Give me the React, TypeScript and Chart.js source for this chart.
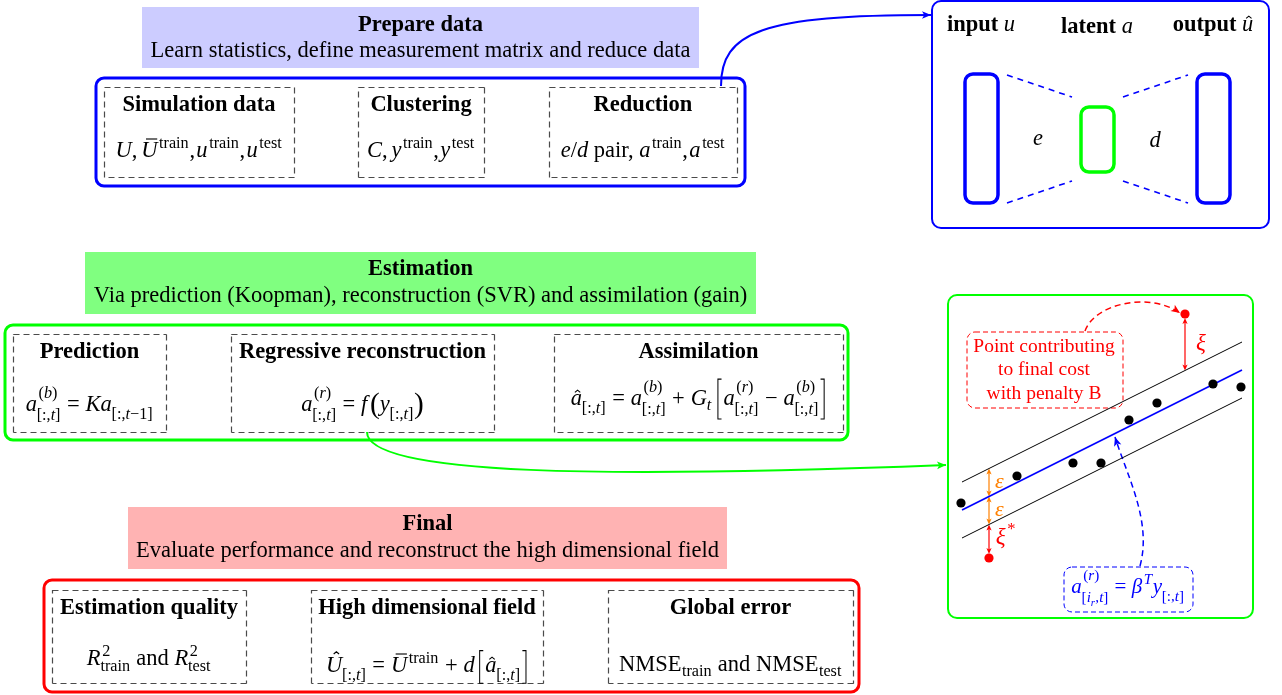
import React, { useEffect, useRef } from 'react';
import { Chart, registerables } from 'chart.js';

Chart.register(...registerables);

// ---------------- text content ----------------
const stageTitles = ['Prepare data', 'Estimation', 'Final'];
const stageSubtitles = [
  'Learn statistics, define measurement matrix and reduce data',
  'Via prediction (Koopman), reconstruction (SVR) and assimilation (gain)',
  'Evaluate performance and reconstruct the high dimensional field',
];
const prepareSteps = ['Simulation data', 'Clustering', 'Reduction'];
const estimationSteps = ['Prediction', 'Regressive reconstruction', 'Assimilation'];
const finalSteps = ['Estimation quality', 'High dimensional field', 'Global error'];
const autoencoderWords = ['input ', 'latent ', 'output '];
const autoencoderVars = ['u', 'a', 'u'];
const mapLabels = ['e', 'd'];
const penaltyNote = ['Point contributing', 'to final cost', 'with penalty B'];
const tubeLabels = ['ε', 'ε'];
const slackLabels = ['ξ', 'ξ'];

// ---------------- SVR illustration data ----------------
const svrPointX = [961, 1017, 1073, 1101, 1129, 1157, 1213, 1241];
const svrPointY = [503, 476, 463, 463, 420, 403, 384, 387];
const outlierX = [1185, 989];
const outlierY = [314, 558];
const regressionX = [962, 1242];
const regressionY = [510, 370];
const tubeHalfWidth = 28;

// ---------------- rich text helpers ----------------
type Run = { k: string; s?: string; sup?: Run[] | null; sub?: Run[] | null; w?: number; up?: boolean; a?: number; b?: number };
const FAM = '"Liberation Serif", "Times New Roman", serif';
const r = (s: string): Run => ({ k: 'r', s });
const it = (s: string): Run => ({ k: 'i', s });
const bd = (s: string): Run => ({ k: 'b', s });
const ss = (sup: Run[] | null, sub?: Run[] | null, a?: number, b?: number): Run => ({ k: 'ss', sup, sub: sub || null, a, b });
const sp = (w: number): Run => ({ k: 'sp', w });
const hat = (s: string, up = false): Run => ({ k: 'hat', s, up });
const bar = (s: string): Run => ({ k: 'bar', s });
const brk = (s: string, a: number, b: number): Run => ({ k: 'brk', s, a, b });
const par = (s: string): Run => ({ k: 'par', s });
const op = (s: string): Run[] => [sp(0.26), r(s), sp(0.26)];

const subT = [r('[:,'), it('t'), r(']')];
const supB = [r('('), it('b'), r(')')];
const supR = [r('('), it('r'), r(')')];
const TR = [r('train')];
const TE = [r('test')];

const simDataMath = [it('U'), r(','), sp(0.17), bar('U'), ss(TR), r(','), sp(0.06), it('u'), ss(TR), r(','), sp(0.06), it('u'), ss(TE)];
const clusteringMath = [it('C'), r(','), sp(0.17), it('y'), ss(TR), r(','), sp(0.06), it('y'), ss(TE)];
const reductionMath = [it('e'), r('/'), it('d'), r(' pair, '), it('a'), ss(TR), r(','), sp(0.06), it('a'), ss(TE)];
const predictionMath = [it('a'), ss(supB, subT, 0.6, 0.42), ...op('='), it('Ka'), ss(null, [r('[:,'), it('t'), r('−1]')], 0, 0.36)];
const regressionMath = [it('a'), ss(supR, subT, 0.6, 0.42), ...op('='), it('f'), sp(0.12), par('('), it('y'), ss(null, subT, 0, 0.36), par(')')];
const assimilationMath = [
  hat('a'), ss(null, subT, 0, 0.36), ...op('='), it('a'), ss(supB, subT, 0.6, 0.42), ...op('+'), it('G'), ss(null, [it('t')], 0, 0.22), sp(0.2),
  brk('[', 1.15, 0.62), it('a'), ss(supR, subT, 0.6, 0.42), ...op('−'), it('a'), ss(supB, subT, 0.6, 0.42), brk(']', 1.15, 0.62),
];
const qualityMath = [it('R'), ss([r('2')], TR, 0.4, 0.28), r(' and '), it('R'), ss([r('2')], TE, 0.4, 0.28)];
const fieldMath = [hat('U', true), ss(null, subT, 0, 0.36), ...op('='), bar('U'), ss(TR), ...op('+'), it('d'), sp(0.15), brk('[', 0.95, 0.5), hat('a'), ss(null, subT, 0, 0.36), brk(']', 0.95, 0.5)];
const errorMath = [r('NMSE'), ss(null, TR, 0, 0.24), r(' and NMSE'), ss(null, TE, 0, 0.24)];
const svrMath = [it('a'), ss(supR, [r('['), it('i'), ss(null, [it('r')], 0, 0.25), r(','), it('t'), r(']')], 0.6, 0.42), ...op('='), it('β'), ss([it('T')]), it('y'), ss(null, subT, 0, 0.36)];

function fontFor(k: string, size: number) {
  if (k === 'i') return `italic ${size}px ${FAM}`;
  if (k === 'b') return `bold ${size}px ${FAM}`;
  return `${size}px ${FAM}`;
}

function layoutRuns(ctx: CanvasRenderingContext2D, list: Run[], x: number, y: number, size: number, color: string, draw: boolean): number {
  let cx = 0;
  let prevItalic = false;
  for (const run of list) {
    if (run.k === 'r' || run.k === 'i' || run.k === 'b') {
      ctx.font = fontFor(run.k, size);
      const w = ctx.measureText(run.s!).width;
      if (draw) {
        ctx.fillStyle = color;
        ctx.fillText(run.s!, x + cx, y);
      }
      cx += w;
      prevItalic = run.k === 'i';
    } else if (run.k === 'hat' || run.k === 'bar') {
      ctx.font = fontFor('i', size);
      const w = ctx.measureText(run.s!).width;
      if (draw) {
        ctx.fillStyle = color;
        ctx.fillText(run.s!, x + cx, y);
        ctx.strokeStyle = color;
        ctx.lineWidth = size * 0.05;
        ctx.setLineDash([]);
        if (run.k === 'hat') {
          const c = x + cx + w / 2 + size * (run.up ? 0.1 : 0.05);
          const top = y - (run.up ? 0.9 : 0.66) * size;
          ctx.beginPath();
          ctx.moveTo(c - 0.12 * size, top + 0.1 * size);
          ctx.lineTo(c, top);
          ctx.lineTo(c + 0.12 * size, top + 0.1 * size);
          ctx.stroke();
        } else {
          const c = x + cx + w / 2 + size * 0.1;
          const yy = y - 0.8 * size;
          ctx.beginPath();
          ctx.moveTo(c - 0.25 * size, yy);
          ctx.lineTo(c + 0.25 * size, yy);
          ctx.stroke();
        }
      }
      cx += w;
      prevItalic = true;
    } else if (run.k === 'ss') {
      const s2 = size * 0.72;
      const both = run.sup && run.sub;
      const raise = run.a || (both ? 0.5 : 0.42);
      const lower = run.b || (both ? 0.3 : 0.22);
      const supOff = prevItalic ? size * 0.07 : size * 0.02;
      const subOff = prevItalic ? -size * 0.01 : size * 0.02;
      let w = 0;
      if (run.sup) {
        const ww = layoutRuns(ctx, run.sup, x + cx + supOff, y - raise * size, s2, color, draw);
        w = Math.max(w, ww + supOff);
      }
      if (run.sub) {
        const ww = layoutRuns(ctx, run.sub, x + cx + subOff, y + lower * size, s2, color, draw);
        w = Math.max(w, ww + subOff);
      }
      cx += w + 0.03 * size;
      prevItalic = false;
    } else if (run.k === 'sp') {
      cx += run.w! * size;
    } else if (run.k === 'brk') {
      const top = y - run.a! * size;
      const bot = y + run.b! * size;
      const bw = 0.16 * size;
      if (draw) {
        ctx.strokeStyle = color;
        ctx.lineWidth = size * 0.045;
        ctx.setLineDash([]);
        ctx.beginPath();
        const lx = x + cx + 0.07 * size;
        if (run.s === '[') {
          ctx.moveTo(lx + bw, top);
          ctx.lineTo(lx, top);
          ctx.lineTo(lx, bot);
          ctx.lineTo(lx + bw, bot);
        } else {
          ctx.moveTo(lx, top);
          ctx.lineTo(lx + bw, top);
          ctx.lineTo(lx + bw, bot);
          ctx.lineTo(lx, bot);
        }
        ctx.stroke();
      }
      cx += 0.32 * size;
    } else if (run.k === 'par') {
      const s2 = size * 1.3;
      ctx.font = fontFor('r', s2);
      const w = ctx.measureText(run.s!).width;
      if (draw) {
        ctx.fillStyle = color;
        ctx.fillText(run.s!, x + cx, y + 0.08 * size);
      }
      cx += w;
      prevItalic = false;
    }
  }
  return cx;
}

function drawRich(ctx: CanvasRenderingContext2D, list: Run[], cx: number, y: number, size: number, color: string) {
  ctx.textBaseline = 'alphabetic';
  ctx.textAlign = 'left';
  const w = layoutRuns(ctx, list, 0, y, size, color, false);
  layoutRuns(ctx, list, cx - w / 2, y, size, color, true);
}

// ---------------- diagram plugin ----------------
const diagramPlugin = {
  id: 'diagram',
  beforeDatasetsDraw(chart: any) {
    const ctx: CanvasRenderingContext2D = chart.ctx;
    const xs = chart.scales.x;
    const ys = chart.scales.y;
    const X = (v: number) => xs.getPixelForValue(v);
    const Y = (v: number) => ys.getPixelForValue(v);
    const FS = 22.5;

    const rr = (x0: number, y0: number, x1: number, y1: number, rad: number) => {
      const a = X(x0), b = Y(y0), c = X(x1), d = Y(y1);
      ctx.beginPath();
      ctx.moveTo(a + rad, b);
      ctx.lineTo(c - rad, b);
      ctx.arcTo(c, b, c, b + rad, rad);
      ctx.lineTo(c, d - rad);
      ctx.arcTo(c, d, c - rad, d, rad);
      ctx.lineTo(a + rad, d);
      ctx.arcTo(a, d, a, d - rad, rad);
      ctx.lineTo(a, b + rad);
      ctx.arcTo(a, b, a + rad, b, rad);
      ctx.closePath();
    };
    const strokeBox = (x0: number, y0: number, x1: number, y1: number, rad: number, color: string, lw: number, dash: number[] = []) => {
      rr(x0, y0, x1, y1, rad);
      ctx.setLineDash(dash);
      ctx.strokeStyle = color;
      ctx.lineWidth = lw;
      ctx.stroke();
      ctx.setLineDash([]);
    };
    const fillBox = (x0: number, y0: number, x1: number, y1: number, color: string) => {
      ctx.fillStyle = color;
      ctx.fillRect(X(x0), Y(y0), X(x1) - X(x0), Y(y1) - Y(y0));
    };
    const text = (s: string, x: number, y: number, font: string, color: string, align: CanvasTextAlign = 'center') => {
      ctx.font = font;
      ctx.fillStyle = color;
      ctx.textAlign = align;
      ctx.textBaseline = 'alphabetic';
      ctx.fillText(s, X(x), Y(y));
    };
    const head = (tx: number, ty: number, ang: number, color: string, L = 9, W = 3.8) => {
      const px = X(tx), py = Y(ty);
      const c = Math.cos(ang), s = Math.sin(ang);
      ctx.setLineDash([]);
      ctx.fillStyle = color;
      ctx.beginPath();
      ctx.moveTo(px, py);
      ctx.lineTo(px - L * c - W * s, py - L * s + W * c);
      ctx.lineTo(px - L * c * 0.75, py - L * s * 0.75);
      ctx.lineTo(px - L * c + W * s, py - L * s - W * c);
      ctx.closePath();
      ctx.fill();
    };
    const curve = (p: number[], color: string, lw: number, dash: number[] = [], arrow = true) => {
      ctx.setLineDash(dash);
      ctx.strokeStyle = color;
      ctx.lineWidth = lw;
      ctx.beginPath();
      ctx.moveTo(X(p[0]), Y(p[1]));
      ctx.bezierCurveTo(X(p[2]), Y(p[3]), X(p[4]), Y(p[5]), X(p[6]), Y(p[7]));
      ctx.stroke();
      ctx.setLineDash([]);
      if (arrow) head(p[6], p[7], Math.atan2(Y(p[7]) - Y(p[5]), X(p[6]) - X(p[4])), color);
    };
    const seg = (x0: number, y0: number, x1: number, y1: number, color: string, lw: number, dash: number[] = []) => {
      ctx.setLineDash(dash);
      ctx.strokeStyle = color;
      ctx.lineWidth = lw;
      ctx.beginPath();
      ctx.moveTo(X(x0), Y(y0));
      ctx.lineTo(X(x1), Y(y1));
      ctx.stroke();
      ctx.setLineDash([]);
    };
    const dbl = (x: number, y0: number, y1: number, color: string) => {
      seg(x, y0 + 3, x, y1 - 3, color, 1.2);
      head(x, y0, -Math.PI / 2, color, 6, 2.6);
      head(x, y1, Math.PI / 2, color, 6, 2.6);
    };
    const bold = `bold ${FS}px ${FAM}`;
    const roman = `${FS}px ${FAM}`;
    const dashGrey = '#4a4a4a';

    ctx.save();

    // ----- stage headers -----
    const headers = [
      { x0: 142, x1: 699, y0: 7, y1: 68, fill: '#ccccff', t: 31, s: 57 },
      { x0: 85, x1: 756, y0: 252, y1: 314, fill: '#80ff80', t: 274.5, s: 301.5 },
      { x0: 128, x1: 727, y0: 507, y1: 569, fill: '#ffb3b3', t: 529.5, s: 556.5 },
    ];
    headers.forEach((h, i) => {
      fillBox(h.x0, h.y0, h.x1, h.y1, h.fill);
      const c = (h.x0 + h.x1) / 2;
      text(stageTitles[i], c, h.t, bold, '#000');
      text(stageSubtitles[i], c, h.s, roman, '#000');
    });

    // ----- stage containers -----
    strokeBox(96, 78, 745, 186, 8, '#0000ff', 3);
    strokeBox(5, 325, 848, 440, 8, '#00ff00', 3);
    strokeBox(44, 580, 859, 692, 8, '#ff0000', 3);

    // ----- steps -----
    const steps = [
      { titles: prepareSteps, boxes: [[104, 294], [358, 484], [549, 737]], y0: 87, y1: 177, tb: 111, mb: [157, 157, 157], math: [simDataMath, clusteringMath, reductionMath] },
      { titles: estimationSteps, boxes: [[13, 166], [231, 494], [554, 843]], y0: 334, y1: 432, tb: 357.5, mb: [411, 411, 405], math: [predictionMath, regressionMath, assimilationMath] },
      { titles: finalSteps, boxes: [[52, 246], [311, 543], [608, 853]], y0: 590, y1: 683, tb: 613.5, mb: [665, 672, 671], math: [qualityMath, fieldMath, errorMath] },
    ];
    steps.forEach((row) => {
      row.boxes.forEach((b, j) => {
        ctx.save();
        ctx.translate(0.5, 0.5);
        strokeBox(b[0], row.y0, b[1], row.y1, 0, dashGrey, 1.2, [6, 4]);
        ctx.restore();
        const c = (b[0] + b[1]) / 2;
        text(row.titles[j], c, row.tb, bold, '#000');
        drawRich(ctx, row.math[j], X(c), Y(row.mb[j]), FS, '#000');
      });
    });

    // ----- autoencoder -----
    strokeBox(932, 1, 1269, 228, 9, '#0000ff', 2);
    const aeCenters = [981, 1097, 1213];
    const aeBase = [31, 33, 31];
    autoencoderWords.forEach((w, i) => {
      const v = i === 2 ? hat(autoencoderVars[i]) : it(autoencoderVars[i]);
      drawRich(ctx, [bd(w), v], X(aeCenters[i]), Y(aeBase[i]), FS, '#000');
    });
    strokeBox(965, 74, 998, 203, 8, '#0000ff', 3.5);
    strokeBox(1197, 74, 1230, 203, 8, '#0000ff', 3.5);
    strokeBox(1081, 107, 1114, 172, 8, '#00ff00', 3.5);
    seg(1007, 75, 1072, 97, '#0000ff', 1.6, [6, 5]);
    seg(1007, 203, 1072, 181, '#0000ff', 1.6, [6, 5]);
    seg(1123, 97, 1188, 75, '#0000ff', 1.6, [6, 5]);
    seg(1123, 181, 1188, 203, '#0000ff', 1.6, [6, 5]);
    text(mapLabels[0], 1038, 145, `italic ${FS}px ${FAM}`, '#000');
    text(mapLabels[1], 1155, 147, `italic ${FS}px ${FAM}`, '#000');

    // ----- SVR panel -----
    strokeBox(948, 295, 1253, 618, 9, '#00ff00', 2);
    strokeBox(967, 332, 1123, 408, 8, '#ff0000', 1, [5, 3]);
    penaltyNote.forEach((s, i) => text(s, 1044, [351.5, 375, 398.5][i], `19.5px ${FAM}`, '#ff0000'));
    strokeBox(1064, 567, 1193, 612, 8, '#0000ff', 1, [5, 3]);
    drawRich(ctx, svrMath, X(1128), Y(593), 21, '#0000ff');

    const slope = (regressionY[1] - regressionY[0]) / (regressionX[1] - regressionX[0]);
    const lineY = (x: number) => regressionY[0] + slope * (x - regressionX[0]);
    const ex = outlierX[1];
    dbl(ex, lineY(ex) - tubeHalfWidth, lineY(ex), '#ff8000');
    dbl(ex, lineY(ex), lineY(ex) + tubeHalfWidth, '#ff8000');
    text(tubeLabels[0], 995, 488, `italic 22px ${FAM}`, '#ff8000', 'left');
    text(tubeLabels[1], 995, 516, `italic 22px ${FAM}`, '#ff8000', 'left');
    dbl(ex, lineY(ex) + tubeHalfWidth, outlierY[1] - 4, '#ff0000');
    dbl(outlierX[0], outlierY[0] + 4, lineY(outlierX[0]) - tubeHalfWidth, '#ff0000');
    drawRich(ctx, [it(slackLabels[0])], X(1201), Y(350), 23, '#ff0000');
    drawRich(ctx, [it(slackLabels[1]), ss([r('*')], null, 0.42)], X(1006), Y(544), 23, '#ff0000');

    curve([1085, 331, 1095, 303, 1150, 292, 1180, 313], '#ff0000', 1.5, [6, 4]);
    curve([1140, 566, 1152, 522, 1128, 478, 1115, 437], '#0000ff', 1.5, [6, 4]);

    // ----- connectors -----
    curve([721, 86, 721, 32, 762, 15, 931, 15], '#0000ff', 2);
    curve([367, 432, 367, 476, 610, 478, 946, 465], '#00ff00', 2);

    ctx.restore();
  },
};

export default function App() {
  const ref = useRef<HTMLCanvasElement | null>(null);
  useEffect(() => {
    if (!ref.current) return;
    const chart = new Chart(ref.current, {
      type: 'scatter',
      data: {
        datasets: [
          {
            data: svrPointX.map((x, i) => ({ x, y: svrPointY[i] })),
            backgroundColor: '#000000',
            borderWidth: 0,
            pointRadius: 4.6,
            order: 0,
          },
          {
            data: outlierX.map((x, i) => ({ x, y: outlierY[i] })),
            backgroundColor: '#ff0000',
            borderWidth: 0,
            pointRadius: 4.6,
            order: 0,
          },
          {
            data: regressionX.map((x, i) => ({ x, y: regressionY[i] })),
            showLine: true,
            borderColor: '#0000ff',
            borderWidth: 1.8,
            pointRadius: 0,
            order: 1,
          },
          {
            data: regressionX.map((x, i) => ({ x, y: regressionY[i] - tubeHalfWidth })),
            showLine: true,
            borderColor: '#000000',
            borderWidth: 1,
            pointRadius: 0,
            order: 1,
          },
          {
            data: regressionX.map((x, i) => ({ x, y: regressionY[i] + tubeHalfWidth })),
            showLine: true,
            borderColor: '#000000',
            borderWidth: 1,
            pointRadius: 0,
            order: 1,
          },
        ],
      },
      options: {
        animation: false,
        responsive: false,
        maintainAspectRatio: false,
        events: [],
        layout: { padding: 0, autoPadding: false },
        plugins: { legend: { display: false }, tooltip: { enabled: false }, title: { display: false } },
        scales: {
          x: { type: 'linear', min: 0, max: 1282, display: false },
          y: { type: 'linear', min: 0, max: 695, reverse: true, display: false },
        },
      },
      plugins: [diagramPlugin],
    } as any);
    return () => chart.destroy();
  }, []);
  return (
    <div style={{ position: 'absolute', left: 0, top: 0, width: 1282, height: 695, background: '#fff' }}>
      <canvas ref={ref} width={1282} height={695} style={{ display: 'block' }} />
    </div>
  );
}
